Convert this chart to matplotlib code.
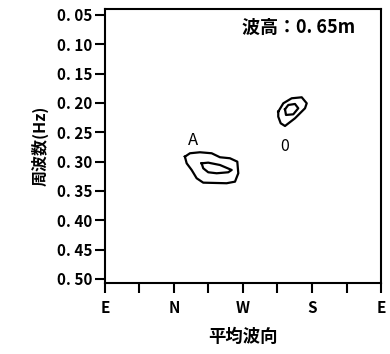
import matplotlib
matplotlib.use('Agg')
import matplotlib.pyplot as plt
from matplotlib import font_manager

# ── Data (direction in degrees from E, frequency in Hz) ─────────
outer_a_dir  = [104.3, 110.9, 123.9, 139.2, 150.0, 163.0, 172.6, 173.9, 169.6, 158.7, 128.2, 119.6, 113.1, 106.6]
outer_a_freq = [0.2915, 0.2857, 0.2840, 0.2857, 0.2925, 0.2942, 0.3000, 0.3198, 0.3341, 0.3368, 0.3358, 0.3283, 0.3142, 0.3028]
inner_a_dir  = [126.1, 134.7, 150.0, 165.3, 160.8, 145.7, 134.7, 128.2]
inner_a_freq = [0.3028, 0.3017, 0.3057, 0.3142, 0.3181, 0.3198, 0.3181, 0.3113]
outer_b_dir  = [226.0, 232.6, 243.5, 256.6, 263.1, 260.9, 247.8, 234.8, 229.2, 226.0]
outer_b_freq = [0.2148, 0.2005, 0.1920, 0.1903, 0.2005, 0.2090, 0.2261, 0.2392, 0.2346, 0.2233]
inner_b_dir  = [234.8, 239.1, 247.8, 252.1, 245.6, 236.1]
inner_b_freq = [0.2107, 0.2034, 0.2017, 0.2090, 0.2193, 0.2204]

xtick_pos    = [0, 45, 90, 135, 180, 225, 270, 315, 360]
xtick_labels = ['E', '', 'N', '', 'W', '', 'S', '', 'E']
ytick_pos    = [0.05, 0.10, 0.15, 0.20, 0.25, 0.30, 0.35, 0.40, 0.45, 0.50]
ytick_labels = ['0. 05', '0. 10', '0. 15', '0. 20', '0. 25', '0. 30', '0. 35', '0. 40', '0. 45', '0. 50']

installed = {f.name for f in font_manager.fontManager.ttflist}
FAM = [f for f in ['Liberation Sans Narrow', 'Noto Sans CJK JP', 'DejaVu Sans'] if f in installed]
JP  = ['Noto Sans CJK JP', 'DejaVu Sans']

fig = plt.figure(figsize=(3.9, 3.54), dpi=100, facecolor='white')
ax = fig.add_axes([0.269, 0.2006, 0.708, 0.774])

def closed(xs, ys):
    return list(xs) + [xs[0]], list(ys) + [ys[0]]

for xs, ys in [(outer_a_dir, outer_a_freq), (inner_a_dir, inner_a_freq),
               (outer_b_dir, outer_b_freq), (inner_b_dir, inner_b_freq)]:
    cx, cy = closed(xs, ys)
    ax.plot(cx, cy, color='black', linewidth=1.6, solid_joinstyle='round')

ax.text(115.2, 0.2642, 'A', ha='center', va='center', fontsize=12, family=FAM)
ax.text(234.8, 0.2745, '0', ha='center', va='center', fontsize=11.5, family=FAM,
        style='italic')
ax.text(0.906, 0.934, '波高：0. 65m', transform=ax.transAxes, ha='right', va='center',
        fontsize=13, fontweight='bold', family=JP)

ax.set_xlim(0, 360)
ax.set_ylim(0.5068, 0.0398)
ax.set_xticks(xtick_pos)
ax.set_xticklabels(xtick_labels, family=FAM, fontsize=11, fontweight='bold')
ax.set_yticks(ytick_pos)
ax.set_yticklabels(ytick_labels, family=FAM, fontsize=11, fontweight='bold')
ax.tick_params(axis='both', direction='out', length=7, width=1.5)
ax.tick_params(axis='x', pad=5)
ax.tick_params(axis='y', pad=2)

for s in ax.spines.values():
    s.set_linewidth(1.5)

ax.set_xlabel('平均波向', family=JP, fontsize=12.5, fontweight='bold', labelpad=9)
ax.set_ylabel('周波数(Hz)', family=JP, fontsize=11.5, fontweight='bold', labelpad=6)

plt.savefig('out.png', dpi=100, facecolor='white')
plt.close()
